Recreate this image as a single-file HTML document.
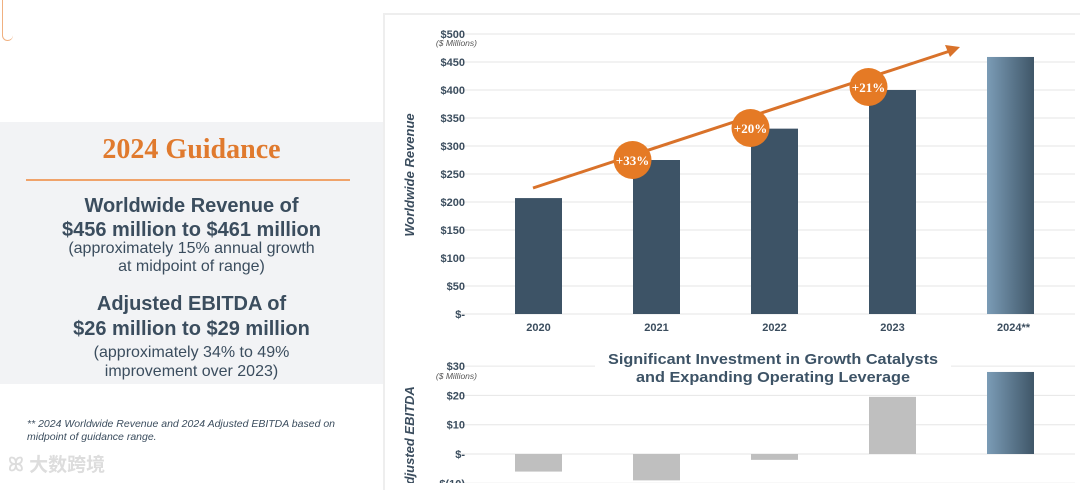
<!DOCTYPE html>
<html><head><meta charset="utf-8">
<style>
body{margin:0;width:1080px;height:483px;overflow:hidden;background:#fff;font-family:"Liberation Sans","Noto Sans CJK SC",sans-serif;position:relative}
.left{position:absolute;left:0;top:122px;width:383px;height:262px;background:#f2f3f5}
.c{position:absolute;left:0;width:383px;text-align:center;color:#3b4d5e}
</style></head><body>
<div class="left"></div>
<div style="position:absolute;left:2px;top:-10px;width:10px;height:50px;border-left:1px solid #f0b080;border-bottom:1px solid #f0b080;border-radius:0 0 6px 6px"></div>
<div class="c" style="top:134px;font-family:'Liberation Serif',serif;font-weight:bold;font-size:28px;color:#e07a2e">2024 Guidance</div>
<div style="position:absolute;left:26px;top:179px;width:324px;height:2px;background:#f0a36a"></div>
<div class="c" style="top:194px;font-size:20px;font-weight:bold;line-height:24px">Worldwide Revenue of<br>$456 million to $461 million</div>
<div class="c" style="top:240px;font-size:16px;line-height:18px">(approximately 15% annual growth<br>at midpoint of range)</div>
<div class="c" style="top:292px;font-size:20px;font-weight:bold;line-height:25px">Adjusted EBITDA of<br>$26 million to $29 million</div>
<div class="c" style="top:343px;font-size:16px;line-height:19px">(approximately 34% to 49%<br>improvement over 2023)</div>
<div style="position:absolute;left:27px;top:418px;font-size:10.5px;font-style:italic;color:#3b4d5e;line-height:13px">** 2024 Worldwide Revenue and 2024 Adjusted EBITDA based on<br>midpoint of guidance range.</div>
<div style="position:absolute;left:8px;top:450px;font-size:19px;font-weight:bold;color:#ddd">ꕤ 大数跨境</div>
<div style="position:absolute;left:383px;top:13px;width:700px;height:475px;border-left:2px solid #eee;border-top:2px solid #eee;background:#fff"></div>
<svg id="chart" width="1080" height="483" style="position:absolute;left:0;top:0">
<defs><linearGradient id="g24" x1="0" x2="1"><stop offset="0" stop-color="#7b9cb6"/><stop offset="1" stop-color="#3f5668"/></linearGradient></defs>
</svg>
<script>
const years=["2020","2021","2022","2023","2024**"];
const revenue=[207,275,331,400,459];
const revTicks=[0,50,100,150,200,250,300,350,400,450,500];
const revTickLabels=["$-","$50","$100","$150","$200","$250","$300","$350","$400","$450","$500"];
const growthLabels=["+33%","+20%","+21%"];
const ebitda=[-6,-9,-2,19.5,28];
const ebTicks=[-10,0,10,20,30];
const ebTickLabels=["$(10)","$-","$10","$20","$30"];
const svg=document.getElementById('chart');
const NS='http://www.w3.org/2000/svg';
function mk(t,a,txt){const e=document.createElementNS(NS,t);for(const k in a)e.setAttribute(k,a[k]);if(txt!==undefined)e.textContent=txt;svg.appendChild(e);return e;}
const xc=i=>538.5+i*118;
const yR=v=>314-v*0.56;
const yE=v=>454-v*2.93;
revTicks.forEach((t,i)=>{
 let l=mk('line',{x1:455,x2:1075,y1:yR(t),y2:yR(t),stroke:'#e6e6e6'});
 
 let tx=mk('text',{x:465,y:yR(t)+4,'text-anchor':'end','font-size':11,'font-weight':'bold',fill:'#3b4d5e'},revTickLabels[i]);
 
});
let u=mk('text',{x:477,y:46,'text-anchor':'end','font-size':8.5,'font-style':'italic',fill:'#555'},'($ Millions)');

let yt=mk('text',{x:0,y:0,transform:'translate(414,175) rotate(-90)','text-anchor':'middle','font-size':13,'font-style':'italic','font-weight':'bold',fill:'#3b4d5e'},'Worldwide Revenue');

revenue.forEach((v,i)=>{
 let b=mk('rect',{x:xc(i)-23.5,y:yR(v),width:47,height:yR(0)-yR(v),fill:i==4?'url(#g24)':'#3d5366'});
 
 let t=mk('text',{x:xc(i)+(i==4?3:0),y:331,'text-anchor':'middle','font-size':11,'font-weight':'bold',fill:'#3b4d5e'},years[i]);
 
});
let ar=mk('line',{x1:533,y1:188,x2:950,y2:51,stroke:'#d9722a','stroke-width':3});

let ah=mk('polygon',{points:'960,47 945,45 950,57',fill:'#d9722a'});

const circY=[160,128,87];
growthLabels.forEach((g,i)=>{
 let c=mk('circle',{cx:xc(i+1)-24,cy:circY[i],r:19,fill:'#e57a25'});
 
 let t=mk('text',{x:xc(i+1)-24,y:circY[i]+5,'text-anchor':'middle','font-size':13,'font-family':'Liberation Serif,serif','font-weight':'bold',fill:'#fff'},g);
 
});
ebTicks.forEach((t,i)=>{
 let l=mk('line',{x1:455,x2:1075,y1:yE(t),y2:yE(t),stroke:'#e6e6e6'});
 
 let tx=mk('text',{x:465,y:yE(t)+4,'text-anchor':'end','font-size':11,'font-weight':'bold',fill:'#3b4d5e'},ebTickLabels[i]);
 
});
let u2=mk('text',{x:477,y:379,'text-anchor':'end','font-size':8.5,'font-style':'italic',fill:'#555'},'($ Millions)');

let yt2=mk('text',{x:0,y:0,transform:'translate(414,440) rotate(-90)','text-anchor':'middle','font-size':13,'font-style':'italic','font-weight':'bold',fill:'#3b4d5e'},'Adjusted EBITDA');

let bg=mk('rect',{x:595,y:349,width:356,height:40,fill:'#fff'});

let t1=mk('text',{x:773,y:364,'text-anchor':'middle','font-size':15,'font-weight':'bold',fill:'#3d5366',textLength:330,lengthAdjust:'spacingAndGlyphs'},'Significant Investment in Growth Catalysts');

let t2=mk('text',{x:773,y:382,'text-anchor':'middle','font-size':15,'font-weight':'bold',fill:'#3d5366',textLength:274,lengthAdjust:'spacingAndGlyphs'},'and Expanding Operating Leverage');

ebitda.forEach((v,i)=>{
 const y0=Math.min(yE(v),yE(0)),h=Math.abs(yE(v)-yE(0));
 let b=mk('rect',{x:xc(i)-23.5,y:y0,width:47,height:h,fill:i==4?'url(#g24)':'#bfbfbf'});
 
});
</script>
</body></html>
